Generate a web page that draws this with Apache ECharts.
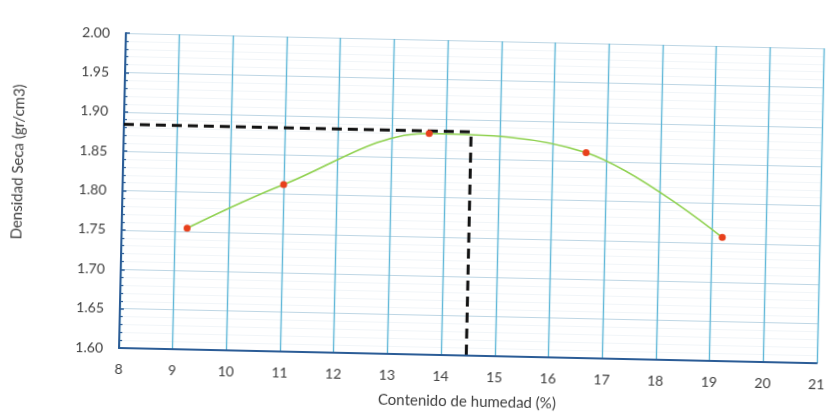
<!DOCTYPE html>
<html>
<head>
<meta charset="utf-8">
<script src="https://cdn.jsdelivr.net/npm/echarts@6/dist/echarts.min.js"></script>
<style>
  html, body { margin: 0; padding: 0; background: #ffffff; overflow: hidden; }
  #chart {
    width: 828px; height: 416px;
    transform-origin: 119px 348px;
    transform: rotate(1.25deg);
  }
</style>
</head>
<body>
<div id="chart"></div>
<script>
// Ensayo Proctor: contenido de humedad (%) vs densidad seca (gr/cm3)
const humedad  = [9.22, 11.00, 13.69, 16.62, 19.19];
const densidad = [1.754, 1.812, 1.881, 1.861, 1.757];

// Humedad óptima y densidad seca máxima
const humedadOptima = [14.47];
const densidadMaxima = [1.884];

const xRange = [8, 21];
const yRange = [1.60, 2.00];

const curva = humedad.map((h, i) => [h, densidad[i]]);
const lineaOptimo = [
  [xRange[0], densidadMaxima[0]],
  [humedadOptima[0], densidadMaxima[0]],
  [humedadOptima[0], yRange[0]]
];

const labelFont = 'Lato, "Open Sans", sans-serif';
const textColor = '#404040';
const chart = echarts.init(document.getElementById('chart'), null, { renderer: 'canvas' });

chart.setOption({
  animation: false,
  backgroundColor: '#ffffff',
  grid: { left: 119, top: 33, width: 707, height: 315, containLabel: false },
  xAxis: {
    type: 'value',
    min: xRange[0], max: xRange[1], interval: 1,
    name: 'Contenido de humedad (%)',
    nameLocation: 'middle',
    nameGap: 39,
    nameTextStyle: { fontFamily: labelFont, fontSize: 15, color: textColor },
    axisLine: { show: true, onZero: false, lineStyle: { color: '#2b5c96', width: 2 } },
    axisTick: { show: false },
    axisLabel: { fontFamily: labelFont, fontSize: 14, color: textColor, margin: 14 },
    splitLine: { show: true, lineStyle: { color: '#62b8d8', width: 1.4 } }
  },
  yAxis: {
    type: 'value',
    min: yRange[0], max: yRange[1], interval: 0.05,
    axisLine: { show: true, onZero: false, lineStyle: { color: '#2b5c96', width: 2 } },
    axisTick: { show: true, inside: true, length: 4, lineStyle: { color: '#2b5c96', width: 1.5 } },
    minorTick: { show: true, splitNumber: 5, length: 3, lineStyle: { color: '#2b5c96', width: 1.2 } },
    axisLabel: {
      fontFamily: labelFont, fontSize: 14, color: textColor, margin: 16,
      formatter: v => v.toFixed(2)
    },
    splitLine: { show: true, lineStyle: { color: '#bed6e4', width: 1.2 } },
    minorSplitLine: { show: true, lineStyle: { color: '#f1f5f8', width: 1 } }
  },
  graphic: [
    {
      type: 'text',
      x: 14, y: 164,
      rotation: Math.PI / 2,
      style: {
        text: 'Densidad Seca (gr/cm3)',
        font: '15px ' + labelFont,
        fill: textColor,
        textAlign: 'center',
        textVerticalAlign: 'middle'
      }
    }
  ],
  series: [
    {
      name: 'Curva de compactación',
      type: 'line',
      data: curva,
      smooth: 0.35,
      symbol: 'circle',
      symbolSize: 7,
      showSymbol: true,
      itemStyle: { color: '#e8401c' },
      lineStyle: { color: '#8fd14f', width: 1.6 },
      z: 3
    },
    {
      name: 'Óptimo',
      type: 'line',
      data: lineaOptimo,
      symbol: 'none',
      lineStyle: { color: '#111111', width: 3, type: [10, 6] },
      z: 2
    }
  ]
});
</script>
</body>
</html>
